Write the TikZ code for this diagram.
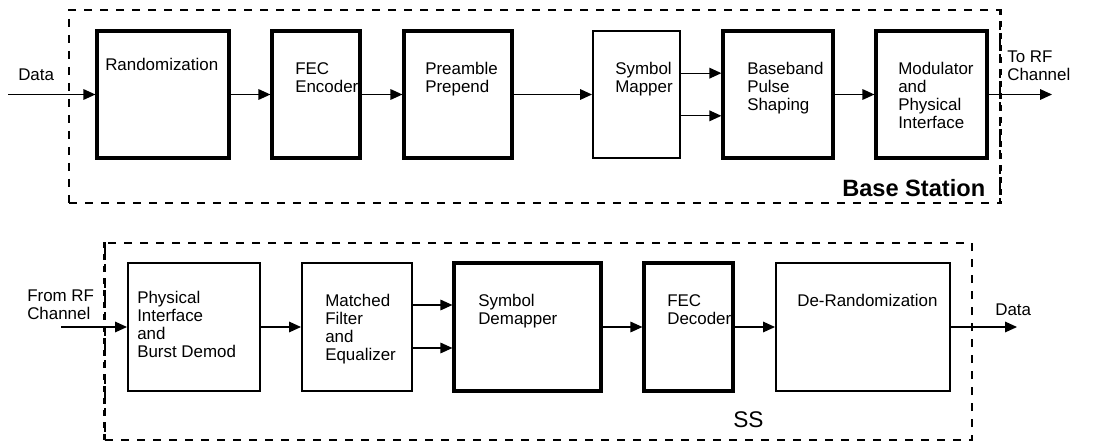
\documentclass[tikz,border=0pt]{standalone}
\usepackage{fontspec}
\setmainfont{Liberation Sans}
\usetikzlibrary{arrows.meta}
\begin{document}
\begin{tikzpicture}[x=0.75pt,y=-0.75pt]
        \useasboundingbox (0,0) rectangle (1110,442);
        % the two dashed frames
        \begin{scope}[every node/.style={draw, dash pattern=on 6pt off 6pt, line width=1pt, inner sep=0pt}]
            \node[minimum width=698.25pt, minimum height=144.75pt] (BSframe) at (534.5,106.5) {};
            \node[minimum width=650.25pt, minimum height=147.75pt] (SSframe) at (538.5,341.5) {};
        \end{scope}
        \begin{scope}[line width=2.2pt, dash pattern=on 4pt off 5pt]
            \draw (BSframe.north east) -- (BSframe.south east);
            \draw (SSframe.north west) -- (SSframe.south west);
        \end{scope}
        % blocks
        \begin{scope}[every node/.style={draw, line width=2.4pt, inner sep=0pt}]
            \node[minimum width=99pt, minimum height=95.25pt] (R) at (163,94.5) {};
            \node[minimum width=66pt, minimum height=95.25pt] (FE) at (316,94.5) {};
            \node[minimum width=81pt, minimum height=95.25pt] (PP) at (458,94.5) {};
            \node[minimum width=65.25pt, minimum height=95.25pt, line width=1.5pt] (SM) at (636.5,94.5) {};
            \node[minimum width=82.5pt, minimum height=95.25pt] (BP) at (778,94.5) {};
            \node[minimum width=83.25pt, minimum height=95.25pt] (MP) at (931.5,94.5) {};
            \node[minimum width=99pt, minimum height=96pt, line width=1.5pt] (PI) at (194,327) {};
            \node[minimum width=82.5pt, minimum height=96pt, line width=1.5pt] (MF) at (357,327) {};
            \node[minimum width=110.25pt, minimum height=96pt] (SD) at (527.5,327) {};
            \node[minimum width=66.75pt, minimum height=96pt] (FD) at (688.5,327) {};
            \node[minimum width=130.5pt, minimum height=96pt, line width=1.5pt] (DR) at (863,327) {};
        \end{scope}
        % block texts
        \begin{scope}[every node/.style={align=left, inner sep=0pt, anchor=north west, font=\fontsize{12.7}{13.5}\selectfont}]
            \node (Rtxt) at (105,58) {Randomization};
            \node (FEtxt) at (295,62) {FEC\\Encoder};
            \node (PPtxt) at (425,62) {Preamble\\Prepend};
            \node (SMtxt) at (615,62) {Symbol\\Mapper};
            \node (BPtxt) at (747,62) {Baseband\\Pulse\\Shaping};
            \node (MPtxt) at (898,62) {Modulator\\and\\Physical\\Interface};
            \node (PItxt) at (137,291) {Physical\\Interface\\and\\Burst Demod};
            \node (MFtxt) at (325,294) {Matched\\Filter\\and\\Equalizer};
            \node (SDtxt) at (478,294) {Symbol\\Demapper};
            \node (FDtxt) at (667,294) {FEC\\Decoder};
            \node (DRtxt) at (797,294) {De-Randomization};
            \node (inBS) at (18,69) {Data};
            \node (outBS) at (1007,51) {To RF\\Channel};
            \node (inSS) at (27,290) {From RF\\Channel};
            \node (outSS) at (995,304) {Data};
        \end{scope}
        \begin{scope}[every node/.style={inner sep=0pt, anchor=west}]
            \node[font=\fontsize{17.7}{20}\selectfont\bfseries] (BStitle) at (842,188) {Base Station};
            \node[font=\fontsize{17}{20}\selectfont] (SStitle) at (733,420) {SS};
        \end{scope}
        % signal flow
        \coordinate (dataIn) at (8,94.5);
        \coordinate (rfOut) at (1052,94.5);
        \coordinate (rfIn) at (61,327);
        \coordinate (dataOut) at (1017,327);
        \begin{scope}[>={Triangle[length=9pt,width=8pt]}, every edge/.style={draw, line width=0.9pt}]
            \path [->] (dataIn) edge (R);
            \path [->] (R) edge (FE);
            \path [->] (FE) edge (PP);
            \path [->] (PP) edge (SM);
            \path [->] ([yshift=16pt]SM.east) edge ([yshift=16pt]BP.west);
            \path [->] ([yshift=-16pt]SM.east) edge ([yshift=-16pt]BP.west);
            \path [->] (BP) edge (MP);
            \path [->] (MP) edge (rfOut);
            \path [->] (rfIn) edge (PI);
            \path [->] (PI) edge (MF);
            \path [->] ([yshift=16.5pt]MF.east) edge ([yshift=16.5pt]SD.west);
            \path [->] ([yshift=-15.75pt]MF.east) edge ([yshift=-15.75pt]SD.west);
            \path [->] (SD) edge (FD);
            \path [->] (FD) edge (DR);
            \path [->] (DR) edge (dataOut);
        \end{scope}
\end{tikzpicture}
\end{document}
